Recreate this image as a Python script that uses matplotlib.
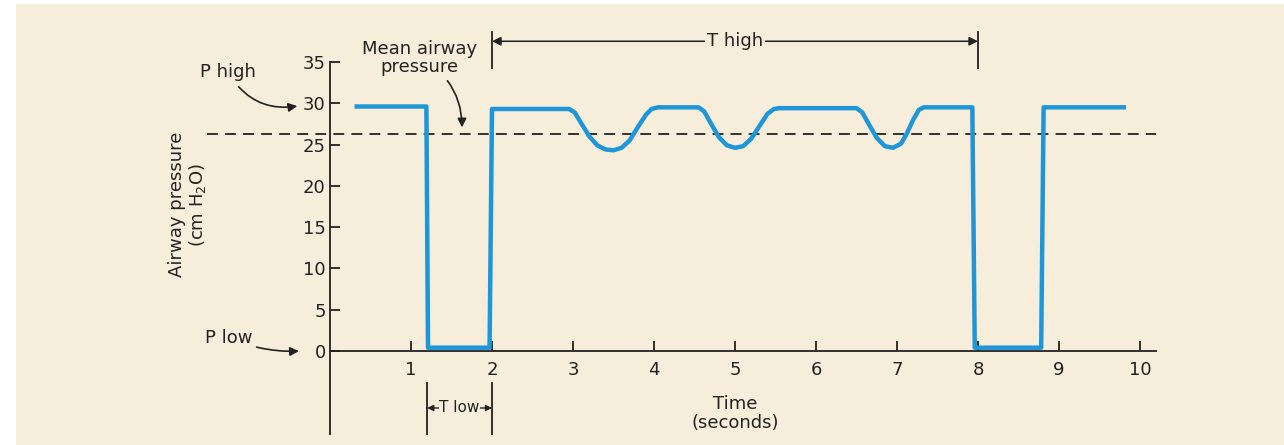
import matplotlib
matplotlib.use("Agg")
import matplotlib.pyplot as plt
from matplotlib.patches import Rectangle

plt.rcParams['font.family'] = ['DejaVu Sans']

# waveform (time in s, pressure in cm H2O)
time_s = [0.33, 1.19, 1.21, 1.97, 2.0, 2.95, 3.02, 3.1, 3.2, 3.3, 3.4, 3.5, 3.6, 3.7, 3.8, 3.9, 3.97, 4.05,
          4.55, 4.62, 4.7, 4.8, 4.9, 5.0, 5.1, 5.2, 5.3, 5.4, 5.48, 5.55,
          6.5, 6.57, 6.65, 6.75, 6.85, 6.95, 7.05, 7.12, 7.2, 7.27, 7.33,
          7.93, 7.96, 8.78, 8.81, 9.8]
pressure = [29.6, 29.6, 0.4, 0.4, 29.3, 29.3, 28.9, 27.6, 26.0, 24.9, 24.4, 24.3, 24.6, 25.5, 27.1, 28.6, 29.3, 29.5,
            29.5, 29.0, 27.6, 25.9, 24.9, 24.6, 24.8, 25.7, 27.2, 28.7, 29.3, 29.4,
            29.4, 28.9, 27.5, 25.8, 24.8, 24.6, 25.1, 26.3, 28.0, 29.2, 29.5,
            29.5, 0.4, 0.4, 29.5, 29.5]
mean_pressure = 26.3
x_ticks = [1, 2, 3, 4, 5, 6, 7, 8, 9, 10]
y_ticks = [0, 5, 10, 15, 20, 25, 30, 35]
t_low = (1.2, 2.0)
t_high = (2.0, 8.0)

cream = '#F6EDDA'
blue = '#1E96D8'
ink = '#222222'
fs = 13

fig = plt.figure(figsize=(12.84, 4.45), dpi=100, facecolor='white')
fig.patches.append(Rectangle((16 / 1284, 0), 1, 1 - 4 / 445, transform=fig.transFigure,
                             facecolor=cream, edgecolor='none', zorder=-10))
ax = fig.add_axes([0, 0, 1, 1])
ax.set_facecolor('none')
ax.set_xlim((0 - 330) / 81, (1284 - 330) / 81)
ax.set_ylim((351 - 445) / 8.26, 351 / 8.26)

for s in ['top', 'right']:
    ax.spines[s].set_visible(False)
ax.spines['left'].set_position(('data', 0))
ax.spines['bottom'].set_position(('data', 0))
ax.spines['left'].set_bounds(-10, 35)
ax.spines['bottom'].set_bounds(0, 10.2)
for s in ['left', 'bottom']:
    ax.spines[s].set_color(ink)
    ax.spines[s].set_linewidth(1.3)

ax.set_xticks(x_ticks)
ax.set_yticks(y_ticks)
ax.tick_params(axis='both', direction='in', length=7, width=1.3, color=ink,
               labelsize=fs, labelcolor=ink)
ax.tick_params(axis='x', pad=7)
ax.tick_params(axis='y', pad=3)

ax.plot(time_s, pressure, color=blue, lw=3.2, solid_joinstyle='round', zorder=3)
ax.plot([-1.52, 10.2], [mean_pressure, mean_pressure], color=ink, lw=1.3,
        dashes=(6, 4), zorder=2)

# labels
ax.text(-1.75, 17.7, 'Airway pressure\n(cm H$_2$O)', rotation=90, ha='center', va='center',
        fontsize=fs, color=ink, linespacing=1.05)
ax.text(5.0, -7.6, 'Time\n(seconds)', ha='center', va='center', fontsize=fs, color=ink,
        linespacing=1.05)

arrow_kw = dict(arrowstyle='-|>', color=ink, lw=1.2, mutation_scale=13)
ax.annotate('P high', xy=(-0.37, 29.7), xytext=(-1.26, 33.8), ha='center', va='center',
            fontsize=fs, color=ink,
            arrowprops=dict(connectionstyle='arc3,rad=0.35', shrinkA=3, shrinkB=2, **arrow_kw))
ax.annotate('Mean airway\npressure', xy=(1.63, 26.9), xytext=(1.11, 35.5), ha='center',
            va='center', fontsize=fs, color=ink, linespacing=1.0,
            arrowprops=dict(connectionstyle='arc3,rad=-0.3', shrinkA=2, shrinkB=1, **arrow_kw))
ax.annotate('P low', xy=(-0.35, 0), xytext=(-1.25, 1.6), ha='center', va='center',
            fontsize=fs, color=ink,
            arrowprops=dict(connectionstyle='arc3,rad=0.12', shrinkA=1, shrinkB=2, **arrow_kw))

# T high marker
for x in t_high:
    ax.plot([x, x], [34.3, 38.6], color=ink, lw=1.3)
ax.annotate('', xy=(t_high[0], 37.5), xytext=(t_high[1], 37.5),
            arrowprops=dict(arrowstyle='<|-|>', color=ink, lw=1.1, mutation_scale=13,
                            shrinkA=0, shrinkB=0))
ax.text(5.0, 37.5, 'T high', ha='center', va='center', fontsize=fs, color=ink,
        bbox=dict(facecolor=cream, edgecolor='none', pad=1))

# T low marker
for x in t_low:
    ax.plot([x, x], [-3.9, -10.0], color=ink, lw=1.3)
ax.annotate('', xy=(t_low[0], -6.9), xytext=(t_low[1], -6.9),
            arrowprops=dict(arrowstyle='<|-|>', color=ink, lw=1.0, mutation_scale=9,
                            shrinkA=0, shrinkB=0))
ax.text(sum(t_low) / 2, -6.9, 'T low', ha='center', va='center', fontsize=11, color=ink,
        bbox=dict(facecolor=cream, edgecolor='none', pad=0.2))

fig.savefig('out.png', dpi=100, facecolor=fig.get_facecolor())
